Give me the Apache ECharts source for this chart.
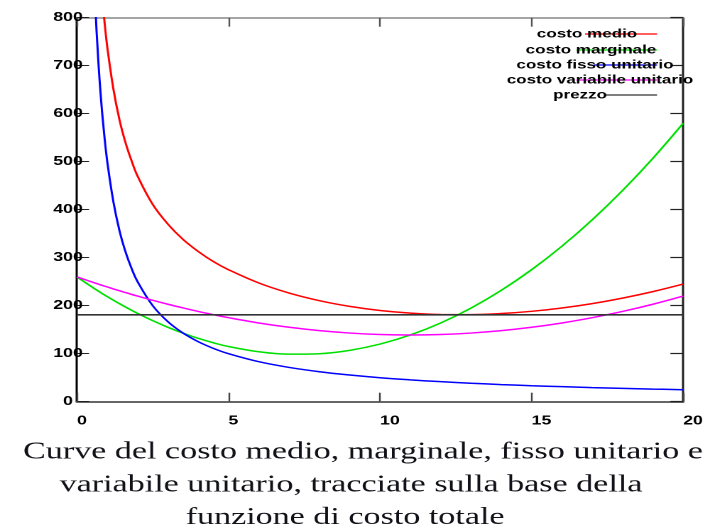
<!DOCTYPE html>
<html>
<head>
<meta charset="utf-8">
<script src="https://cdn.jsdelivr.net/npm/echarts@6/dist/echarts.min.js"></script>
<style>
html,body{margin:0;padding:0;background:#fff;overflow:hidden;}
#c{width:498px;height:526px;transform:scaleX(1.42);transform-origin:0 0;}
</style>
</head>
<body>
<div id="c"></div>
<script>
// Quantity (x) sample points
const quantity = [0, 0.5, 0.6, 0.7, 0.8, 0.9, 1, 1.2, 1.4, 1.6, 1.8, 2, 2.5, 3, 3.5, 4, 4.5, 5, 6, 7, 8, 9, 10, 11, 12, 13, 14, 15, 16, 17, 18, 19, 20];
// costo medio (red)
const costoMedio = [null, 1249, 1080, 959, 868, 797, 739, 652, 588, 540, 502, 470, 411, 370, 338, 313, 292, 275, 247.3, 226.4, 210.5, 198.6, 190, 184.5, 181.7, 181.5, 183.7, 188.3, 195.3, 204.4, 215.8, 229.3, 245];
// costo marginale (green)
const costoMarginale = [260, 238.8, 234.7, 230.7, 226.7, 222.8, 219, 211.5, 204.3, 197.3, 190.5, 184, 168.8, 155, 142.8, 132, 122.8, 115, 104, 99, 100, 107, 120, 139, 164, 195, 232, 275, 324, 379, 440, 507, 580];
// costo fisso unitario (blue)
const costoFisso = [null, 1000, 833, 714, 625, 556, 500, 417, 357, 312.5, 277.8, 250, 200, 166.7, 142.9, 125, 111.1, 100, 83.3, 71.4, 62.5, 55.6, 50, 45.5, 41.7, 38.5, 35.7, 33.3, 31.3, 29.4, 27.8, 26.3, 25];
// costo variabile unitario (magenta)
const costoVariabile = [260, 249.3, 247.2, 245.1, 243, 241, 239, 235, 231.2, 227.4, 223.6, 220, 211.3, 203, 195.3, 188, 181.3, 175, 164, 155, 148, 143, 140, 139, 140, 143, 148, 155, 164, 175, 188, 203, 220];
// prezzo (black)
const prezzoX = [0, 20];
const prezzoY = [181, 181];

const seriesNames = ['costo medio', 'costo marginale', 'costo fisso unitario', 'costo variabile unitario', 'prezzo'];
const seriesColors = ['#ff0000', '#00e000', '#0000ff', '#ff00ff', '#333333'];
const xTicks = [0, 5, 10, 15, 20];
const yTicks = [0, 100, 200, 300, 400, 500, 600, 700, 800];
const captionLines = ['Curve del costo medio, marginale, fisso unitario e', 'variabile unitario, tracciate sulla base della', 'funzione di costo totale'];

function pairs(xs, ys) { return xs.map((x, i) => [x, ys[i]]); }

const chart = echarts.init(document.getElementById('c'), null, {renderer: 'canvas', devicePixelRatio: 2});

const lineSeries = [
  {name: seriesNames[0], data: pairs(quantity, costoMedio)},
  {name: seriesNames[1], data: pairs(quantity, costoMarginale)},
  {name: seriesNames[2], data: pairs(quantity, costoFisso)},
  {name: seriesNames[3], data: pairs(quantity, costoVariabile)},
  {name: seriesNames[4], data: pairs(prezzoX, prezzoY), smooth: false}
].map((s, i) => Object.assign({
  type: 'line', smooth: 0.4, showSymbol: false, clip: true,
  lineStyle: {color: seriesColors[i], width: i === 4 ? 1.6 : 1.5},
  itemStyle: {color: seriesColors[i]},
  xAxisIndex: 0, yAxisIndex: 0, z: 3
}, s));

// legend drawn as graphic (text centres & sample lines)
const legendY = [34, 50, 65, 80, 95];
const legendTextX = [413.4, 416.2, 419, 422.5, 408.5];
const legendLineX1 = [412, 406, 418, 406, 426];
const legendLineX2 = 462.7;
const graphics = [];
seriesNames.forEach((n, i) => {
  graphics.push({type: 'line', z: 10, shape: {x1: legendLineX1[i], y1: legendY[i], x2: legendLineX2, y2: legendY[i]}, style: {stroke: seriesColors[i], lineWidth: 1.2}});
  graphics.push({type: 'text', z: 11, x: legendTextX[i], y: legendY[i], style: {text: n, fill: '#000', font: 'bold 12px "Liberation Sans", Arial, sans-serif', textAlign: 'center', textVerticalAlign: 'middle'}});
});
const capX = [255.6, 247.2, 243];
const capY = [452.3, 485, 517.6];
captionLines.forEach((t, i) => {
  graphics.push({type: 'text', x: capX[i], y: capY[i], style: {text: t, fill: '#111118', font: '24px "Liberation Serif", "Times New Roman", serif', textAlign: 'center', textVerticalAlign: 'middle'}});
});

chart.setOption({
  animation: false,
  backgroundColor: '#fff',
  grid: {left: 54.2, right: 14.4, top: 17.7, bottom: 124.3, containLabel: false},
  xAxis: [
    {type: 'value', position: 'bottom', min: xTicks[0], max: xTicks[xTicks.length - 1], interval: 5,
     axisLine: {show: true, onZero: false, lineStyle: {color: '#666', width: 2}},
     axisTick: {show: true, inside: true, length: 9, lineStyle: {color: '#444', width: 1.2}},
     axisLabel: {show: true, align: 'left', margin: 13, color: '#000', fontSize: 12.5, fontWeight: 'bold', fontFamily: '"Liberation Sans", Arial, sans-serif'},
     splitLine: {show: false}},
    {type: 'value', position: 'top', min: xTicks[0], max: xTicks[xTicks.length - 1], interval: 5,
     axisLine: {show: true, onZero: false, lineStyle: {color: '#888', width: 1.5}},
     axisTick: {show: true, inside: true, length: 9, lineStyle: {color: '#555', width: 1.2}},
     axisLabel: {show: false}, splitLine: {show: false}}
  ],
  yAxis: [
    {type: 'value', position: 'left', min: yTicks[0], max: yTicks[yTicks.length - 1], interval: 100,
     axisLine: {show: true, onZero: false, lineStyle: {color: '#000', width: 1.5}},
     axisTick: {show: true, inside: true, length: 8.5, lineStyle: {color: '#222', width: 1}},
     axisLabel: {show: true, align: 'center', margin: 6.3, padding: [8, 0, 0, 0], color: '#000', fontSize: 12.5, fontWeight: 'bold', fontFamily: '"Liberation Sans", Arial, sans-serif'},
     splitLine: {show: false}},
    {type: 'value', position: 'right', min: yTicks[0], max: yTicks[yTicks.length - 1], interval: 100,
     axisLine: {show: true, onZero: false, lineStyle: {color: '#222', width: 1.5}},
     axisTick: {show: true, inside: true, length: 9, lineStyle: {color: '#222', width: 1.2}},
     axisLabel: {show: false}, splitLine: {show: false}}
  ],
  series: lineSeries,
  graphic: graphics
});
</script>
</body>
</html>
